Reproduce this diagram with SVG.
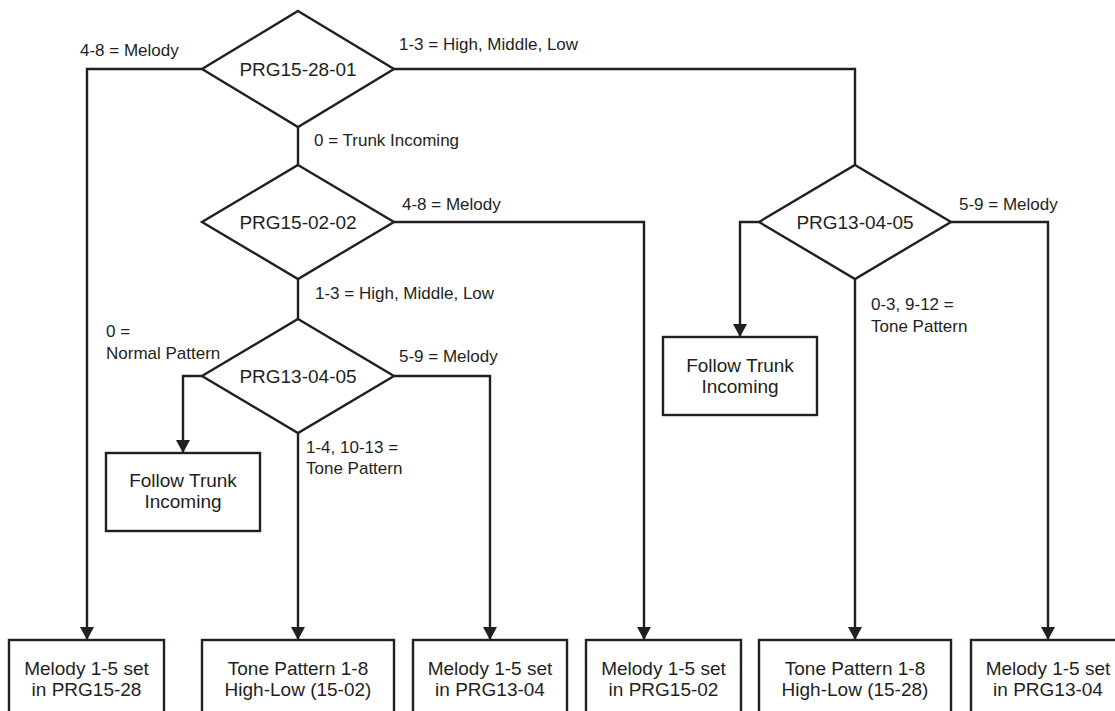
<svg xmlns="http://www.w3.org/2000/svg" width="1115" height="711" viewBox="0 0 1115 711">
<style>
.shape{fill:#fff;stroke:#231f20;stroke-width:2.4}
.conn{fill:none;stroke:#231f20;stroke-width:2.4}
.nt{font-family:"Liberation Sans",Arial,sans-serif;font-size:19px;fill:#231f20;text-anchor:middle}
.lb{font-family:"Liberation Sans",Arial,sans-serif;font-size:17px;fill:#231f20}
</style>
<defs>
<marker id="arr" markerUnits="userSpaceOnUse" markerWidth="14" markerHeight="14" refX="13" refY="7" orient="auto" viewBox="0 0 14 14">
<path d="M0,0 L13,7 L0,14 z" fill="#231f20"/>
</marker>
</defs>
<rect width="1115" height="711" fill="#fff"/>
<g id="connectors">
<path class="conn" d="M202,69 H87 V640" marker-end="url(#arr)"/>
<path class="conn" d="M394,69 H855 V165"/>
<path class="conn" d="M298,127 V165"/>
<path class="conn" d="M394,222 H644 V640" marker-end="url(#arr)"/>
<path class="conn" d="M298,279 V319"/>
<path class="conn" d="M202,376 H183 V453" marker-end="url(#arr)"/>
<path class="conn" d="M394,376 H490 V640" marker-end="url(#arr)"/>
<path class="conn" d="M298,433 V640" marker-end="url(#arr)"/>
<path class="conn" d="M759,222 H740 V337" marker-end="url(#arr)"/>
<path class="conn" d="M951,222 H1048 V640" marker-end="url(#arr)"/>
<path class="conn" d="M855,279 V640" marker-end="url(#arr)"/>
</g>
<g id="labels">
<text class="lb" x="80" y="56">4-8 = Melody</text>
<text class="lb" x="399" y="50">1-3 = High, Middle, Low</text>
<text class="lb" x="314" y="146">0 = Trunk Incoming</text>
<text class="lb" x="402" y="210">4-8 = Melody</text>
<text class="lb" x="315" y="299">1-3 = High, Middle, Low</text>
<text class="lb" x="106" y="337">0 =</text>
<text class="lb" x="106" y="359">Normal Pattern</text>
<text class="lb" x="399" y="362">5-9 = Melody</text>
<text class="lb" x="306" y="453">1-4, 10-13 =</text>
<text class="lb" x="306" y="474">Tone Pattern</text>
<text class="lb" x="959" y="210">5-9 = Melody</text>
<text class="lb" x="871" y="310">0-3, 9-12 =</text>
<text class="lb" x="871" y="332">Tone Pattern</text>
</g>
<g id="d1">
<polygon class="shape" points="298,11 394,69 298,127 202,69"/>
<text class="nt" x="298" y="76">PRG15-28-01</text>
</g>
<g id="d2">
<polygon class="shape" points="298,165 394,222 298,279 202,222"/>
<text class="nt" x="298" y="229">PRG15-02-02</text>
</g>
<g id="d3">
<polygon class="shape" points="855,165 951,222 855,279 759,222"/>
<text class="nt" x="855" y="229">PRG13-04-05</text>
</g>
<g id="d4">
<polygon class="shape" points="298,319 394,376 298,433 202,376"/>
<text class="nt" x="298" y="383">PRG13-04-05</text>
</g>
<g id="ft1">
<rect class="shape" x="106" y="453" width="154" height="78"/>
<text class="nt" x="183" y="487">Follow Trunk</text>
<text class="nt" x="183" y="508">Incoming</text>
</g>
<g id="ft2">
<rect class="shape" x="663" y="337" width="154" height="78"/>
<text class="nt" x="740" y="372">Follow Trunk</text>
<text class="nt" x="740" y="393">Incoming</text>
</g>
<g id="b1">
<rect class="shape" x="9" y="640" width="155" height="82"/>
<text class="nt" x="86.5" y="675">Melody 1-5 set</text>
<text class="nt" x="86.5" y="696">in PRG15-28</text>
</g>
<g id="b2">
<rect class="shape" x="202" y="640" width="192" height="82"/>
<text class="nt" x="298" y="675">Tone Pattern 1-8</text>
<text class="nt" x="298" y="696">High-Low (15-02)</text>
</g>
<g id="b3">
<rect class="shape" x="413" y="640" width="154" height="82"/>
<text class="nt" x="490" y="675">Melody 1-5 set</text>
<text class="nt" x="490" y="696">in PRG13-04</text>
</g>
<g id="b4">
<rect class="shape" x="586" y="640" width="155" height="82"/>
<text class="nt" x="663.5" y="675">Melody 1-5 set</text>
<text class="nt" x="663.5" y="696">in PRG15-02</text>
</g>
<g id="b5">
<rect class="shape" x="759" y="640" width="192" height="82"/>
<text class="nt" x="855" y="675">Tone Pattern 1-8</text>
<text class="nt" x="855" y="696">High-Low (15-28)</text>
</g>
<g id="b6">
<rect class="shape" x="971" y="640" width="155" height="82"/>
<text class="nt" x="1048" y="675">Melody 1-5 set</text>
<text class="nt" x="1048" y="696">in PRG13-04</text>
</g>
</svg>
